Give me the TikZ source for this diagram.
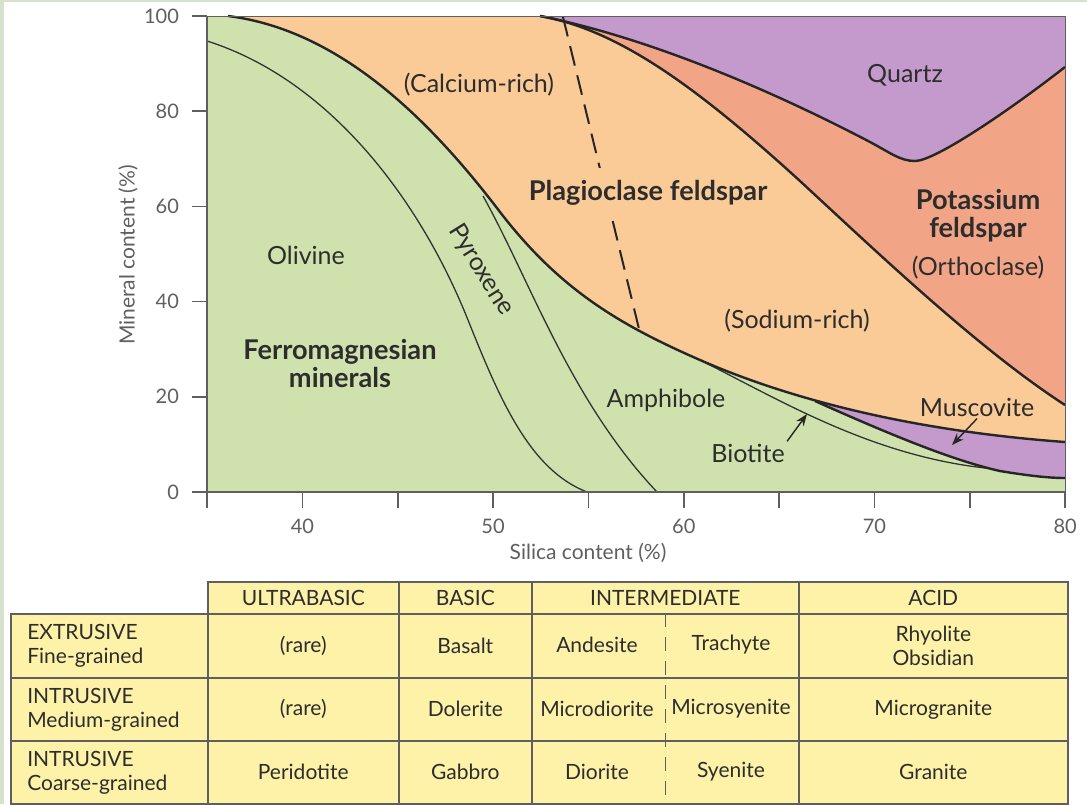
\documentclass[tikz,border=0pt]{standalone}
\usepackage{fontspec}
\setmainfont{Lato}
\usetikzlibrary{arrows.meta}

\definecolor{ferrogreen}{RGB}{207,226,173}
\definecolor{plagorange}{RGB}{250,202,151}
\definecolor{orthosalmon}{RGB}{242,164,134}
\definecolor{quartzpurple}{RGB}{196,153,203}
\definecolor{tableyellow}{RGB}{253,242,168}
\definecolor{pagegreen}{RGB}{215,226,205}
\definecolor{inkgrey}{RGB}{45,45,45}
\definecolor{axisgrey}{RGB}{95,95,95}

% boundaries of the mineral fields (x = px, y = px downwards)
\def\mainline{(228,16) .. controls (340,30) and (430,120) .. (500,212)
  .. controls (560,290) and (620,325) .. (700,360)
  .. controls (780,395) and (900,430) .. (1065,442)}
\def\ortholine{(540,16) .. controls (620,30) and (700,90) .. (800,181)
  .. controls (880,255) and (980,350) .. (1065,405)}
\def\quartzline{(540,16) .. controls (660,40) and (790,100) .. (870,142)
  .. controls (890,152.5) and (900,161) .. (915,161)
  .. controls (935,161) and (1010,110) .. (1065,67)}
\def\muscline{(815,401) .. controls (880,430) and (950,460) .. (1000,471)
  .. controls (1030,476) and (1050,478) .. (1065,478)}
\def\biotline{(700,360) .. controls (780,400) and (870,455) .. (985,468)}
\def\olivline{(207,41) .. controls (330,80) and (420,200) .. (468,320)
  .. controls (500,400) and (530,470) .. (587,492)}
\def\pyroline{(483,196) .. controls (530,280) and (570,400) .. (657,492)}

\begin{document}
\begin{tikzpicture}[x=0.5pt, y=-0.5pt,
  boundary/.style={line width=1.2pt, draw=black!85},
  mineralline/.style={line width=0.65pt, draw=black!80},
  mineral/.style={font=\fontsize{12.5}{15}\selectfont, text=inkgrey},
  group/.style={font=\fontsize{13.6}{14}\selectfont\bfseries, text=inkgrey, align=center},
  ticklabel/.style={font=\fontsize{10}{12}\selectfont, text=axisgrey},
  axislabel/.style={font=\fontsize{10.5}{12}\selectfont, text=axisgrey},
  cell/.style={draw=axisgrey, line width=0.8pt, fill=tableyellow, anchor=north west,
    inner sep=0pt, align=center, font=\fontsize{10.5}{12}\selectfont, text=inkgrey},
  rowhead/.style={cell, text width=82pt, align=left},
  celltext/.style={font=\fontsize{10.5}{12}\selectfont, text=inkgrey},
  pointer/.style={-{Stealth[length=6pt, width=4.5pt]}, line width=0.7pt, draw=black!85}
]
\useasboundingbox (0,0) rectangle (1087,804);
\fill[pagegreen] (0,0) rectangle (1087,804);
\fill[white] (4,2) rectangle (1087,804);

% mineral fields
\fill[ferrogreen] (207,16) rectangle (1065,492);
\fill[quartzpurple] \muscline -- (1065,398) -- cycle;
\fill[plagorange] \mainline -- (1065,16) -- cycle;
\fill[orthosalmon] \ortholine -- (1065,16) -- cycle;
\fill[quartzpurple] \quartzline -- (1065,16) -- cycle;

\draw[mineralline] \olivline;
\draw[mineralline] \pyroline;
\draw[mineralline] \biotline;
\draw[boundary] \muscline;
\draw[boundary] \mainline;
\draw[boundary] \ortholine;
\draw[boundary] \quartzline;
\draw[boundary, line width=1pt, dash pattern=on 10pt off 5pt] (563,17) -- (640,333);

% axes
\draw[axisgrey, line width=0.5pt] (207,16) -- (1065,16) -- (1065,492);
\draw[axisgrey, line width=0.8pt] (207,16) -- (207,492) -- (1065,492);
\foreach \v in {0,20,...,100} {
  \draw[axisgrey, line width=0.8pt] (192,{492-4.76*\v}) -- (207,{492-4.76*\v});
  \node[ticklabel, anchor=east] (ytick\v) at (186,{492-4.76*\v}) {\v};
}
\foreach \s in {35,40,...,80}
  \draw[axisgrey, line width=0.8pt] ({207+19.07*(\s-35)},492) -- ({207+19.07*(\s-35)},508);
\foreach \s in {40,50,...,80}
  \node[ticklabel] (xtick\s) at ({207+19.07*(\s-35)},526) {\s};
\node[axislabel, rotate=90] (ylab) at (128,255) {Mineral content (\%)};
\node[axislabel] (xlab) at (588,553) {Silica content (\%)};

% field labels
\node[mineral] (olivine) at (306,255) {Olivine};
\node[group] (ferro) at (340,364) {Ferromagnesian\\minerals};
\node[mineral, rotate=-58] (pyroxene) at (481,270) {Pyroxene};
\node[mineral] (calcium) at (479,85) {(Calcium-rich)};
\node[group, fill=plagorange, inner ysep=6pt] (plag) at (648,193) {Plagioclase feldspar};
\node[mineral] (quartz) at (905,75) {Quartz};
\node[group] (potassium) at (978,216) {Potassium\\feldspar};
\node[mineral] (ortho) at (978,268) {(Orthoclase)};
\node[mineral] (sodium) at (797,321) {(Sodium-rich)};
\node[mineral] (amphibole) at (666,400) {Amphibole};
\node[mineral, inner sep=1pt] (biotite) at (748,453) {Biotite};
\node[mineral, inner sep=1pt] (muscovite) at (977,407) {Muscovite};
\coordinate (biotip) at (807,414);
\coordinate (musctip) at (952,445);
\draw[pointer] (biotite.north east) -- (biotip);
\draw[pointer] (muscovite.south) -- (musctip);

% rock table
\node[cell, minimum width=95.5pt, minimum height=16pt] (hUltra) at (207,581) {ULTRABASIC};
\node[cell, minimum width=66.5pt, minimum height=16pt] (hBasic) at (398,581) {BASIC};
\node[cell, minimum width=133.5pt, minimum height=16pt] (hInter) at (531,581) {INTERMEDIATE};
\node[cell, minimum width=134.5pt, minimum height=16pt] (hAcid) at (798,581) {ACID};

\node[rowhead, minimum width=98.5pt, minimum height=32pt] (rExtr) at (10,613) {EXTRUSIVE\\Fine-grained};
\node[cell, minimum width=95.5pt, minimum height=32pt] (ultraExtr) at (207,613) {(rare)};
\node[cell, minimum width=66.5pt, minimum height=32pt] (basicExtr) at (398,613) {Basalt};
\node[cell, minimum width=133.5pt, minimum height=32pt] (interExtr) at (531,613) {};
\node[cell, minimum width=134.5pt, minimum height=32pt] (acidExtr) at (798,613) {Rhyolite\\Obsidian};

\node[rowhead, minimum width=98.5pt, minimum height=31.5pt] (rMed) at (10,677) {INTRUSIVE\\Medium-grained};
\node[cell, minimum width=95.5pt, minimum height=31.5pt] (ultraMed) at (207,677) {(rare)};
\node[cell, minimum width=66.5pt, minimum height=31.5pt] (basicMed) at (398,677) {Dolerite};
\node[cell, minimum width=133.5pt, minimum height=31.5pt] (interMed) at (531,677) {};
\node[cell, minimum width=134.5pt, minimum height=31.5pt] (acidMed) at (798,677) {Microgranite};

\node[rowhead, minimum width=98.5pt, minimum height=31.5pt] (rCoarse) at (10,740) {INTRUSIVE\\Coarse-grained};
\node[cell, minimum width=95.5pt, minimum height=31.5pt] (ultraCoarse) at (207,740) {Peridotite};
\node[cell, minimum width=66.5pt, minimum height=31.5pt] (basicCoarse) at (398,740) {Gabbro};
\node[cell, minimum width=133.5pt, minimum height=31.5pt] (interCoarse) at (531,740) {};
\node[cell, minimum width=134.5pt, minimum height=31.5pt] (acidCoarse) at (798,740) {Granite};

\draw[axisgrey, line width=0.6pt, dash pattern=on 7pt off 5pt] (interExtr.north) -- (interCoarse.south);
\node[celltext] (andesite) at (597,645) {Andesite};
\node[celltext] (trachyte) at (731,645) {Trachyte};
\node[celltext] (microdiorite) at (597,709) {Microdiorite};
\node[celltext] (microsyenite) at (731,709) {Microsyenite};
\node[celltext] (diorite) at (597,772) {Diorite};
\node[celltext] (syenite) at (731,772) {Syenite};
\end{tikzpicture}
\end{document}
